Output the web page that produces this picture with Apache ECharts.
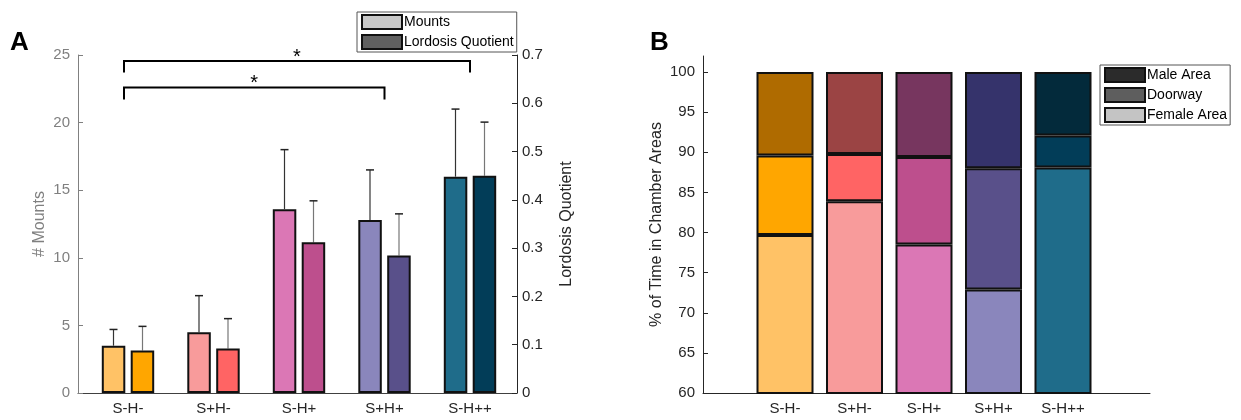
<!DOCTYPE html>
<html>
<head>
<meta charset="utf-8">
<script src="https://cdn.jsdelivr.net/npm/echarts@6/dist/echarts.min.js"></script>
<style>
  html, body { margin: 0; padding: 0; background: #fff; }
  #main { width: 1241px; height: 420px; }
</style>
</head>
<body>
<div id="main"></div>
<script>
// categories shared by both panels
const categories = ['S-H-', 'S+H-', 'S-H+', 'S+H+', 'S-H++'];

// panel A: mean and error (upper whisker) per group
const mountsMean = [3.5, 4.5, 13.6, 12.8, 16.0];
const mountsErr = [1.2, 2.7, 4.4, 3.7, 5.0];
const lqMean = [0.088, 0.092, 0.312, 0.285, 0.450];
const lqErr = [0.050, 0.062, 0.086, 0.086, 0.111];

// significance brackets: [from group, to group, level, leg end] in # Mounts units
const brackets = [[0, 4, 24.55, 23.7], [0, 3, 22.6, 21.7]];

// panel B: % of time in each chamber area (stacked)
const femaleArea = [79.7, 83.9, 78.5, 72.9, 88.1];
const doorway = [9.9, 5.9, 10.9, 15.1, 4.0];
const maleArea = [10.4, 10.2, 10.6, 12.0, 7.9];

// colour palettes per group
const lightColors = ['#FFC266', '#F89B9B', '#DB77B5', '#8A86BC', '#1F6C8A'];
const midColors = ['#FFA600', '#FF6464', '#BD4F8D', '#59508A', '#023D58'];
const darkColors = ['#AF6B00', '#9B4444', '#77365F', '#35336B', '#032A3B'];

const FONT = 'Liberation Sans, Arial, sans-serif';
const chart = echarts.init(document.getElementById('main'));

function colored (values, colors) {
  return values.map((v, i) => ({ value: v, itemStyle: { color: colors[i] } }))
}

// upward error bar, shifted off the category centre by offset px
function errorBar (offset, lineColor) {
  return function (params, api) {
    const i = api.value(0)
    const m = api.value(1)
    const e = api.value(2)
    const base = api.coord([i, m])
    const top = api.coord([i, m + e])
    const x = base[0] + offset
    return {
      type: 'group',
      children: [
        { type: 'line', shape: { x1: x, y1: base[1], x2: x, y2: top[1] }, style: { stroke: lineColor, lineWidth: 1.2 } },
        { type: 'line', shape: { x1: x - 4, y1: top[1], x2: x + 4, y2: top[1] }, style: { stroke: '#222', lineWidth: 1.5 } }
      ]
    }
  }
}

function bracketItem (params, api) {
  const a = api.coord([api.value(0), api.value(2)])
  const b = api.coord([api.value(1), api.value(2)])
  const legA = api.coord([api.value(0), api.value(3)])
  const legB = api.coord([api.value(1), api.value(3)])
  return {
    type: 'group',
    children: [
      {
        type: 'polyline',
        shape: { points: [[a[0] - 4, legA[1]], [a[0] - 4, a[1]], [b[0], b[1]], [b[0], legB[1]]] },
        style: { stroke: '#000', lineWidth: 2, fill: null }
      },
      {
        type: 'text',
        x: (a[0] - 4 + b[0]) / 2,
        y: a[1] + 6,
        style: { text: '*', fontSize: 20, fontFamily: FONT, fill: '#000', align: 'center', verticalAlign: 'bottom' }
      }
    ]
  }
}

const tickLabel = { fontSize: 15, fontFamily: FONT, color: '#262626' }
const legendText = { fontSize: 14, fontFamily: FONT, color: '#000', padding: [0, 0, 0, -3] }

const option = {
  animation: false,
  textStyle: { fontFamily: FONT },
  graphic: [
    { type: 'text', left: 10, top: 30, style: { text: 'A', fontSize: 26, fontWeight: 'bold', fontFamily: FONT, fill: '#000' } },
    { type: 'text', left: 650, top: 30, style: { text: 'B', fontSize: 26, fontWeight: 'bold', fontFamily: FONT, fill: '#000' } }
  ],
  legend: [
    {
      data: ['Mounts', 'Lordosis Quotient'],
      orient: 'vertical', left: 357, top: 12,
      icon: 'rect', itemWidth: 40, itemHeight: 14, itemGap: 4,
      padding: [2, 3, 2, 4], borderColor: '#555', borderWidth: 1,
      textStyle: legendText,
      selectedMode: false
    },
    {
      data: ['Male Area', 'Doorway', 'Female Area'],
      orient: 'vertical', left: 1100, top: 65,
      icon: 'rect', itemWidth: 40, itemHeight: 14, itemGap: 4,
      padding: [2, 3, 2, 4], borderColor: '#555', borderWidth: 1,
      textStyle: legendText,
      selectedMode: false
    }
  ],
  grid: [
    { left: 78, top: 55, width: 439, height: 338 },      // A frame
    { left: 85.25, top: 55, width: 427.5, height: 338 }, // A data
    { left: 703, top: 56, width: 447, height: 337 },     // B frame
    { left: 750.25, top: 56, width: 347.5, height: 337 } // B data
  ],
  xAxis: [
    {
      gridIndex: 0, type: 'value', min: 0, max: 1,
      axisLine: { show: true, lineStyle: { color: '#404040', width: 1 } },
      axisTick: { show: false }, axisLabel: { show: false }, splitLine: { show: false }
    },
    {
      gridIndex: 1, type: 'category', data: categories,
      axisLine: { show: false }, axisTick: { show: false },
      axisLabel: Object.assign({ margin: 8 }, tickLabel)
    },
    {
      gridIndex: 2, type: 'value', min: 0, max: 1,
      axisLine: { show: true, lineStyle: { color: '#262626', width: 1 } },
      axisTick: { show: false }, axisLabel: { show: false }, splitLine: { show: false }
    },
    {
      gridIndex: 3, type: 'category', data: categories,
      axisLine: { show: false }, axisTick: { show: false },
      axisLabel: Object.assign({ margin: 8 }, tickLabel)
    }
  ],
  yAxis: [
    {
      gridIndex: 0, type: 'value', position: 'left', min: 0, max: 25, interval: 5,
      axisLine: { show: true, lineStyle: { color: '#808080' } },
      axisTick: { show: true, inside: true, length: 5, lineStyle: { color: '#808080' } },
      axisLabel: { fontSize: 15, fontFamily: FONT, color: '#808080', margin: 8 },
      splitLine: { show: false },
      name: '# Mounts', nameLocation: 'middle', nameGap: 30,
      nameTextStyle: { fontSize: 16, fontFamily: FONT, color: '#808080' }
    },
    {
      gridIndex: 0, type: 'value', position: 'right', min: 0, max: 0.7, interval: 0.1,
      axisLine: { show: true, lineStyle: { color: '#262626' } },
      axisTick: { show: true, inside: true, length: 5, lineStyle: { color: '#262626' } },
      axisLabel: Object.assign({ margin: 5, formatter: v => (Math.round(v * 10) / 10).toString() }, tickLabel),
      splitLine: { show: false },
      name: 'Lordosis Quotient', nameLocation: 'middle', nameGap: 42, nameRotate: 90,
      nameTextStyle: { fontSize: 16, fontFamily: FONT, color: '#262626' }
    },
    { gridIndex: 1, type: 'value', min: 0, max: 25, show: false },
    { gridIndex: 1, type: 'value', min: 0, max: 0.7, show: false },
    {
      gridIndex: 2, type: 'value', min: 60, max: 102,
      axisLine: { show: true, lineStyle: { color: '#262626' } },
      axisTick: { show: true, inside: true, length: 5, lineStyle: { color: '#262626' }, customValues: [60, 65, 70, 75, 80, 85, 90, 95, 100] },
      axisLabel: Object.assign({ margin: 8, customValues: [60, 65, 70, 75, 80, 85, 90, 95, 100] }, tickLabel),
      splitLine: { show: false },
      name: '% of Time in Chamber Areas', nameLocation: 'middle', nameGap: 38,
      nameTextStyle: { fontSize: 16, fontFamily: FONT, color: '#262626' }
    },
    { gridIndex: 3, type: 'value', min: 60, max: 102, show: false }
  ],
  series: [
    {
      name: 'Mounts', type: 'bar', xAxisIndex: 1, yAxisIndex: 2,
      barWidth: 23.5, barGap: '23%',
      itemStyle: { color: '#C8C8C8', borderColor: '#111', borderWidth: 2 },
      data: colored(mountsMean, lightColors)
    },
    {
      name: 'Lordosis Quotient', type: 'bar', xAxisIndex: 1, yAxisIndex: 3,
      barWidth: 23.5, barGap: '23%',
      itemStyle: { color: '#606060', borderColor: '#111', borderWidth: 2 },
      data: colored(lqMean, midColors)
    },
    {
      type: 'custom', xAxisIndex: 1, yAxisIndex: 2, z: 1,
      renderItem: errorBar(-14.5, '#333'),
      data: mountsMean.map((m, i) => [i, m, mountsErr[i]])
    },
    {
      type: 'custom', xAxisIndex: 1, yAxisIndex: 3, z: 1,
      renderItem: errorBar(14.5, '#777'),
      data: lqMean.map((m, i) => [i, m, lqErr[i]])
    },
    {
      type: 'custom', xAxisIndex: 1, yAxisIndex: 2, clip: false,
      renderItem: bracketItem,
      data: brackets
    },
    {
      name: 'Female Area', type: 'bar', xAxisIndex: 3, yAxisIndex: 5, stack: 'time',
      barWidth: 57,
      itemStyle: { color: '#C4C4C4', borderColor: '#111', borderWidth: 2 },
      data: colored(femaleArea, lightColors)
    },
    {
      name: 'Doorway', type: 'bar', xAxisIndex: 3, yAxisIndex: 5, stack: 'time',
      barWidth: 57,
      itemStyle: { color: '#5E5E5E', borderColor: '#111', borderWidth: 2 },
      data: colored(doorway, midColors)
    },
    {
      name: 'Male Area', type: 'bar', xAxisIndex: 3, yAxisIndex: 5, stack: 'time',
      barWidth: 57,
      itemStyle: { color: '#2B2B2B', borderColor: '#111', borderWidth: 2 },
      data: colored(maleArea, darkColors)
    }
  ]
}

chart.setOption(option)
</script>
</body>
</html>
